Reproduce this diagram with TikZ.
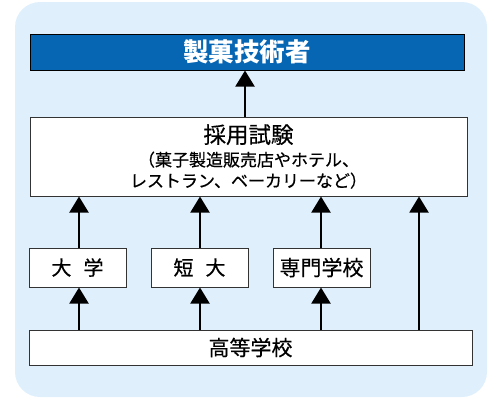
\documentclass[tikz,border=0pt]{standalone}
\usepackage{fontspec}
\newfontfamily\jp[FakeBold=0.5]{Noto Sans CJK JP}
\newfontfamily\jptitle{Noto Sans CJK JP}
\usetikzlibrary{arrows.meta}
\definecolor{bgblue}{HTML}{DFF0FC}
\definecolor{titleblue}{HTML}{0766B4}
\definecolor{boxline}{HTML}{333333}
\tikzset{
  box/.style={draw=boxline, line width=1pt, fill=white, rectangle, inner sep=0pt},
  up/.style={line width=2pt, -{Triangle[width=19pt,length=16pt]}},
}
\begin{document}
\begin{tikzpicture}[x=1pt,y=-1pt]
\useasboundingbox (0,0) rectangle (500,400);
\fill[bgblue, rounded corners=25pt] (15,2) rectangle (487,397);
\node[box, fill=titleblue, draw=black, minimum width=434pt, minimum height=36pt,
  font=\jptitle\bfseries\fontsize{25.5}{25.5}\selectfont, text=white] (title) at (247,52) {製菓技術者};
\node[box, minimum width=437pt, minimum height=79pt, align=center,
  font=\jp\fontsize{17}{21}\selectfont] (exam) at (248.5,156.5)
  {{\fontsize{22.5}{22}\selectfont 採用試験}\\[2pt]（菓子製造販売店やホテル、\\レストラン、ベーカリーなど）};
\node[box, minimum width=97pt, minimum height=39pt, font=\jp\fontsize{20}{20}\selectfont] (univ) at (77.5,267.5) {大\hspace{0.6em}学};
\node[box, minimum width=97pt, minimum height=39pt, font=\jp\fontsize{20}{20}\selectfont] (junior) at (199.5,267.5) {短\hspace{0.6em}大};
\node[box, minimum width=97pt, minimum height=39pt, font=\jp\fontsize{21}{21}\selectfont] (senmon) at (321.5,267.5) {専門学校};
\node[box, minimum width=443pt, minimum height=35pt, font=\jp\fontsize{21}{21}\selectfont] (high) at (250.5,347.5) {高等学校};
\coordinate (c0) at (245,0);
\coordinate (c1) at (79,0);
\coordinate (c2) at (200,0);
\coordinate (c3) at (321,0);
\coordinate (c4) at (419,0);
\draw[up] (exam.north -| c0) -- (title.south -| c0);
\draw[up] (univ.north -| c1) -- (exam.south -| c1);
\draw[up] (junior.north -| c2) -- (exam.south -| c2);
\draw[up] (senmon.north -| c3) -- (exam.south -| c3);
\draw[up] (high.north -| c4) -- (exam.south -| c4);
\draw[up] (high.north -| c1) -- (univ.south -| c1);
\draw[up] (high.north -| c2) -- (junior.south -| c2);
\draw[up] (high.north -| c3) -- (senmon.south -| c3);
\end{tikzpicture}
\end{document}
